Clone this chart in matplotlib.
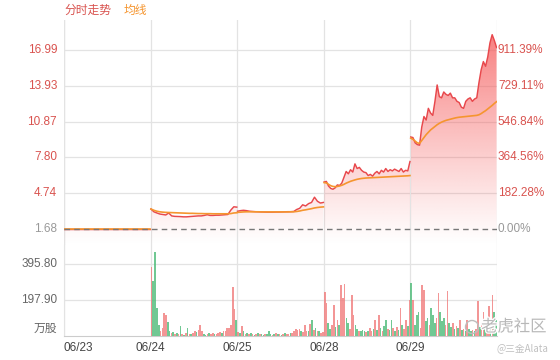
import numpy as np
import matplotlib
matplotlib.use('Agg')
import matplotlib.pyplot as plt
import matplotlib.patheffects as pe
from matplotlib.path import Path
from matplotlib.patches import Ellipse

plt.rcParams['font.family'] = ['Liberation Sans', 'Noto Sans CJK SC', 'DejaVu Sans']

# ---------------- data ----------------
dates = ['06/23', '06/24', '06/25', '06/28', '06/29']
base_price = 1.68
price_ticks = [1.68, 4.74, 7.80, 10.87, 13.93, 16.99]
price_labels = ['1.68', '4.74', '7.80', '10.87', '13.93', '16.99']
pct_labels = ['0.00%', '182.28%', '364.56%', '546.84%', '729.11%', '911.39%']
vol_ticks = [197.90, 395.80]
vol_labels = ['197.90', '395.80']

price_d1 = [1.70, 1.70]
avg_d1 = [1.70, 1.70]

price_d2 = [3.39, 3.15, 3.05, 2.96, 2.92, 2.88, 3.05, 2.80, 2.76, 2.75,
            2.74, 2.72, 2.72, 2.74, 2.76, 2.78, 2.80, 2.80, 2.84, 2.90,
            2.84, 2.84, 2.86, 2.86, 2.88, 2.90, 2.92, 3.30, 3.58, 3.55]
avg_d2 = [3.39, 3.28, 3.20, 3.15, 3.12, 3.10, 3.09, 3.08, 3.07, 3.06,
          3.05, 3.04, 3.03, 3.02, 3.02, 3.01, 3.00, 3.00, 2.99, 2.99,
          2.99, 2.98, 2.98, 2.98, 2.98, 2.98, 2.98, 3.00, 3.05, 3.07]

price_d3 = [3.20, 3.25, 3.28, 3.25, 3.20, 3.18, 3.16, 3.15, 3.14, 3.13,
            3.12, 3.12, 3.12, 3.13, 3.13, 3.14, 3.15, 3.16, 3.16, 3.18,
            3.35, 3.45, 3.75, 3.65, 3.85, 3.95, 4.40, 4.05, 3.90, 3.95]
avg_d3 = [3.10, 3.12, 3.14, 3.15, 3.15, 3.15, 3.15, 3.15, 3.14, 3.14,
          3.14, 3.14, 3.14, 3.14, 3.14, 3.14, 3.14, 3.14, 3.15, 3.15,
          3.18, 3.22, 3.28, 3.32, 3.37, 3.42, 3.48, 3.52, 3.55, 3.57]

price_d4 = [5.70, 5.75, 5.35, 5.15, 5.08, 5.20, 5.45, 5.40, 5.60, 6.10,
            6.60, 6.40, 6.75, 6.55, 7.25, 6.85, 6.95, 6.70, 6.55, 6.50,
            6.25, 6.35, 6.20, 6.45, 6.60, 6.40, 6.70, 6.55, 6.85, 6.60,
            6.75, 6.65, 6.80, 6.70, 6.60, 6.85, 6.55, 6.70, 6.65, 7.45]
avg_d4 = [5.65, 5.62, 5.50, 5.38, 5.32, 5.30, 5.32, 5.36, 5.42, 5.50,
          5.60, 5.68, 5.76, 5.82, 5.88, 5.93, 5.97, 6.00, 6.02, 6.04,
          6.05, 6.06, 6.07, 6.08, 6.09, 6.10, 6.11, 6.12, 6.13, 6.14,
          6.15, 6.16, 6.17, 6.18, 6.19, 6.20, 6.21, 6.22, 6.23, 6.25]

price_d5 = [9.55, 9.50, 9.05, 8.90, 8.85, 10.4, 11.3, 11.0, 12.0, 11.6,
            11.4, 12.6, 14.0, 13.0, 12.9, 13.4, 13.2, 13.1, 13.3, 12.9,
            12.9, 12.6, 12.5, 12.1, 12.0, 12.6, 12.8, 12.9, 12.6, 12.8,
            12.9, 14.2, 15.3, 16.0, 15.6, 16.4, 17.6, 18.3, 17.8, 17.2]
avg_d5 = [9.45, 9.35, 9.20, 9.05, 9.00, 9.25, 9.50, 9.75, 9.95, 10.15,
          10.30, 10.45, 10.60, 10.72, 10.82, 10.90, 10.97, 11.02, 11.07, 11.12,
          11.17, 11.21, 11.24, 11.26, 11.28, 11.30, 11.32, 11.34, 11.36, 11.38,
          11.40, 11.45, 11.55, 11.68, 11.80, 11.95, 12.10, 12.25, 12.42, 12.57]

vol_d2 = [381, 300, 462, 154, 60, 30, 45, 126, 117, 79, 25, 15, 20, 12, 18, 10,
          55, 12, 8, 15, 42, 10, 12, 18, 25, 20, 35, 60, 28, 12, 8, 10,
          15, 12, 18, 10, 12, 15, 20, 18, 25, 30, 45, 45, 60, 271, 148, 88]
dir_d2 = "rggggrrrrggrgrgrgrgrgrgrrgrrrggrgrrgrrrgrrrrrrrg"
vol_d3 = [20, 15, 55, 25, 12, 18, 10, 15, 12, 8, 10, 15, 12, 10, 8, 12,
          10, 30, 12, 8, 10, 15, 12, 10, 8, 12, 15, 10, 12, 18, 15, 30,
          38, 35, 40, 25, 20, 60, 30, 25, 66, 88, 35, 45, 25, 30, 18, 20]
dir_d3 = "rgrgrgrgrgrgrggrgggrgrgrgrgrrgrrrrrgrrrgrgrgrgrr"
vol_d4 = [244, 181, 71, 40, 60, 170, 50, 90, 60, 280, 209, 286, 100, 71, 40, 225,
          115, 60, 40, 30, 25, 35, 30, 20, 25, 45, 30, 40, 90, 35, 115, 45,
          30, 55, 90, 40, 35, 90, 45, 30, 50, 35, 154, 60, 40, 90, 55, 200]
dir_d4 = "rrggrrgrgrrrggrrrggrgggrgrrgrgrgrggrggrgrgrgrrgr"
vol_d5 = [293, 200, 60, 115, 132, 45, 280, 255, 80, 99, 60, 154, 115, 70, 100, 236,
          132, 80, 99, 60, 247, 70, 50, 71, 40, 55, 45, 90, 35, 40, 30, 90,
          40, 30, 35, 25, 40, 192, 50, 60, 132, 40, 60, 165, 70, 225, 132, 90]
dir_d5 = "grgggrrrggrgggrrgggrrggrgrgrgrgrggrgrrgrrgrrgrgg"

price_days = [price_d1, price_d2, price_d3, price_d4, price_d5]
avg_days = [avg_d1, avg_d2, avg_d3, avg_d4, avg_d5]
vol_days = [None, vol_d2, vol_d3, vol_d4, vol_d5]
dir_days = [None, dir_d2, dir_d3, dir_d4, dir_d5]

# ---------------- styling ----------------
RED = '#e8484c'
ORANGE = '#f5952f'
LABEL_RED = '#d9534f'
GRAY_TXT = '#999999'
GRID = '#e3e3e3'
VOL_RED = '#f07c7c'
VOL_GREEN = '#4dbb78'

W, H = 560, 360
fig = plt.figure(figsize=(W / 100, H / 100), dpi=100)
L, R = 64, 497
ax = fig.add_axes([L / W, 1 - 245 / H, (R - L) / W, (245 - 20) / H])
axv = fig.add_axes([L / W, 1 - 336 / H, (R - L) / W, (336 - 245) / H])

ylo, yhi = 0.311, 19.556
ax.set_xlim(0, 5)
ax.set_ylim(ylo, yhi)

# gradient for fill
grad = np.zeros((256, 1, 4))
t = np.linspace(0, 1, 256)
grad[..., 0] = 245 / 255
grad[..., 1] = 85 / 255
grad[..., 2] = 85 / 255
grad[..., 3] = (0.8 * t ** 1.1)[:, None]

for d in range(5):
    p = np.asarray(price_days[d])
    a = np.asarray(avg_days[d])
    n = len(p)
    if d == 0:
        x = np.linspace(d + 0.0, d + 0.995, n)
    else:
        x = np.linspace(d + 0.004, d + 0.995, n)
    verts = [(x[0], ylo)] + list(zip(x, p)) + [(x[-1], ylo), (x[0], ylo)]
    im = ax.imshow(grad, extent=(x[0], x[-1], ylo, yhi), origin='lower',
                   aspect='auto', zorder=1, interpolation='bilinear')
    im.set_clip_path(Path(verts), ax.transData)
    ax.plot(x, p, color=RED, lw=1.05, zorder=4)
    ax.plot(x, a, color=ORANGE, lw=1.2, zorder=5)

ax.set_xlim(0, 5)
ax.set_ylim(ylo, yhi)

# baseline dashed
ax.axhline(base_price, color='#777777', lw=1.0, ls=(0, (4, 3)), zorder=6)

# grids
for yv in price_ticks[1:]:
    ax.axhline(yv, color=GRID, lw=0.9, zorder=0)
for xv in range(0, 6):
    ax.axvline(xv, color=GRID, lw=0.9, zorder=0)
    axv.axvline(xv, color=GRID, lw=0.9, zorder=0)

for s in ax.spines.values():
    s.set_visible(False)
ax.set_xticks([])
ax.set_yticks([])

ytr = ax.get_yaxis_transform()
for yv, lab, pl in zip(price_ticks, price_labels, pct_labels):
    c = GRAY_TXT if yv == base_price else LABEL_RED
    ax.text(-0.016, yv, lab, transform=ytr, ha='right', va='center',
            fontsize=8.5, color=c)
    ax.text(1.002, yv, pl, transform=ytr, ha='left', va='center',
            fontsize=8.5, color=c)

# volume
axv.set_xlim(0, 5)
axv.set_ylim(0, 500)
for d in range(1, 5):
    v = np.asarray(vol_days[d])
    n = len(v)
    xs = d + (np.arange(n) + 0.5) / n
    cols = [VOL_RED if c == 'r' else VOL_GREEN for c in dir_days[d]]
    axv.bar(xs, v, width=0.9 / n, color=cols, alpha=0.8, linewidth=0, zorder=3)

for yv in vol_ticks:
    axv.axhline(yv, color=GRID, lw=0.9, zorder=0)
for s in ['top', 'right']:
    axv.spines[s].set_visible(False)
axv.spines['left'].set_color(GRID)
axv.spines['bottom'].set_color('#cccccc')
axv.set_yticks([])
axv.set_xticks(range(5))
axv.set_xticklabels(dates, fontsize=8.5, color='#444444')
axv.tick_params(axis='x', length=0, pad=4)
axv.get_xticklabels()[0].set_horizontalalignment('left')

vtr = axv.get_yaxis_transform()
for yv, lab in zip(vol_ticks, vol_labels):
    axv.text(-0.016, yv, lab, transform=vtr, ha='right', va='center',
             fontsize=8.5, color='#666666')
axv.text(-0.016, 5, '万股', transform=vtr, ha='right', va='bottom',
         fontsize=8.5, color='#666666')

# left spine of price axis
ax.axvline(0, color=GRID, lw=0.9, zorder=0)

# legend-like header
fig.text(64 / W, 1 - 10 / H, '分时走势', fontsize=8.5, color=LABEL_RED,
         ha='left', va='center', family=['Noto Sans CJK SC', 'DejaVu Sans'])
fig.text(124 / W, 1 - 10 / H, '均线', fontsize=8.5, color=ORANGE,
         ha='left', va='center', family=['Noto Sans CJK SC', 'DejaVu Sans'])

# watermark
halo = [pe.withStroke(linewidth=1.8, foreground='white')]
fig.patches.append(Ellipse((472 / W, 1 - 327 / H), 13 / W, 13 / H,
                           transform=fig.transFigure, fill=False,
                           edgecolor='#bdbdbd', lw=1.0, zorder=10))
fig.text(481 / W, 1 - 327 / H, '老虎社区', fontsize=11.8, color='#b8b8b8',
         ha='left', va='center', zorder=10, path_effects=halo,
         family=['Noto Sans CJK SC', 'DejaVu Sans'])
fig.text(548 / W, 1 - 348 / H, '@三金Alata', fontsize=7, color='#c0c0c0',
         ha='right', va='center', family=['Noto Sans CJK SC', 'DejaVu Sans'])

fig.savefig('out.png', dpi=100)
